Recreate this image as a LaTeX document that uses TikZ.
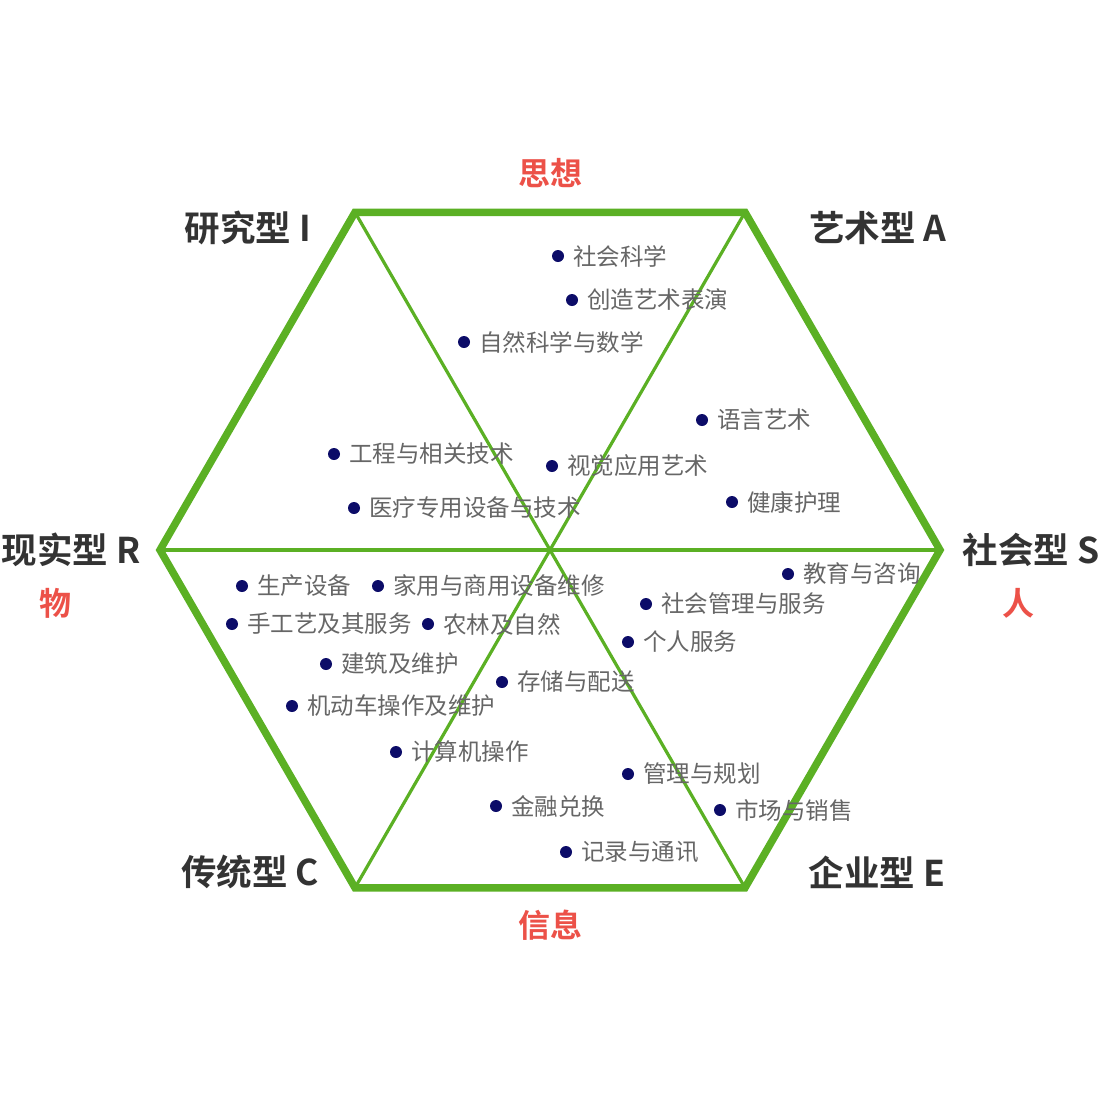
\documentclass[tikz,border=0pt]{standalone}
\usepackage{fontspec}
\usepackage{tikz}
\usepackage{xcolor}
\usetikzlibrary{positioning}
\setmainfont{Noto Sans CJK SC}[BoldFont={Noto Sans CJK SC Bold}]
\definecolor{hexgreen}{HTML}{5BB024}
\definecolor{themered}{HTML}{EC5148}
\definecolor{dotnavy}{HTML}{0C0C68}
\definecolor{itemgray}{HTML}{666666}
\definecolor{typedark}{HTML}{333333}

\begin{document}
\begin{tikzpicture}[x=1bp, y=-1bp]
\tikzstyle{dot}=[circle, fill=dotnavy, inner sep=0pt, minimum size=12bp]
\tikzstyle{item}=[inner sep=0pt, anchor=west, text=itemgray, font=\fontsize{23.5bp}{28bp}\selectfont]
\tikzstyle{type}=[inner sep=0pt, text=typedark, font=\fontsize{35.5bp}{40bp}\selectfont\bfseries]
\tikzstyle{theme}=[inner sep=0pt, text=themered, font=\fontsize{32bp}{36bp}\selectfont\bfseries]
\useasboundingbox (0,0) rectangle (1102,1100);
% hexagon corners
\coordinate (cI) at (355,212.25);
\coordinate (cA) at (745,212.25);
\coordinate (cS) at (940,550);
\coordinate (cE) at (745,887.75);
\coordinate (cC) at (355,887.75);
\coordinate (cR) at (160,550);
\draw[hexgreen, line width=3.2bp] (cI) -- (cE);
\draw[hexgreen, line width=3.2bp] (cA) -- (cC);
\draw[hexgreen, line width=3.2bp] (cR) -- (cS);
\draw[hexgreen, line width=7.5bp] (cI) -- (cA) -- (cS) -- (cE) -- (cC) -- (cR) -- cycle;
% type labels
\node[type] (tI) at (248,228) {研究型 I};
\node[type] (tA) at (878,228) {艺术型 A};
\node[type] (tS) at (1031,550) {社会型 S};
\node[type] (tR) at (71,550) {现实型 R};
\node[type] (tC) at (250,872) {传统型 C};
\node[type] (tE) at (877,872) {企业型 E};
\node[theme] (think) at (550,173) {思想};
\node[theme] (info) at (550,925) {信息};
\node[theme] (people) at (1018,603) {人};
\node[theme] (things) at (55,603) {物};
% items
\node[dot] (d1) at (558,256) {};
\node[item, right=9bp of d1] {社会科学};
\node[dot] (d2) at (572,300) {};
\node[item, right=9bp of d2] {创造艺术表演};
\node[dot] (d3) at (464,342) {};
\node[item, right=9bp of d3] {自然科学与数学};
\node[dot] (d4) at (702,420) {};
\node[item, right=9bp of d4] {语言艺术};
\node[dot] (d5) at (334,454) {};
\node[item, right=9bp of d5] {工程与相关技术};
\node[dot] (d6) at (552,466) {};
\node[item, right=9bp of d6] {视觉应用艺术};
\node[dot] (d7) at (732,502) {};
\node[item, right=9bp of d7] {健康护理};
\node[dot] (d8) at (354,508) {};
\node[item, right=9bp of d8] {医疗专用设备与技术};
\node[dot] (d9) at (788,574) {};
\node[item, right=9bp of d9] {教育与咨询};
\node[dot] (d10) at (242,586) {};
\node[item, right=9bp of d10] {生产设备};
\node[dot] (d11) at (378,586) {};
\node[item, right=9bp of d11] {家用与商用设备维修};
\node[dot] (d12) at (646,604) {};
\node[item, right=9bp of d12] {社会管理与服务};
\node[dot] (d13) at (232,624) {};
\node[item, right=9bp of d13] {手工艺及其服务};
\node[dot] (d14) at (428,624) {};
\node[item, right=9bp of d14] {农林及自然};
\node[dot] (d15) at (628,642) {};
\node[item, right=9bp of d15] {个人服务};
\node[dot] (d16) at (326,664) {};
\node[item, right=9bp of d16] {建筑及维护};
\node[dot] (d17) at (502,682) {};
\node[item, right=9bp of d17] {存储与配送};
\node[dot] (d18) at (292,706) {};
\node[item, right=9bp of d18] {机动车操作及维护};
\node[dot] (d19) at (396,752) {};
\node[item, right=9bp of d19] {计算机操作};
\node[dot] (d20) at (628,774) {};
\node[item, right=9bp of d20] {管理与规划};
\node[dot] (d21) at (496,806) {};
\node[item, right=9bp of d21] {金融兑换};
\node[dot] (d22) at (720,810) {};
\node[item, right=9bp of d22] {市场与销售};
\node[dot] (d23) at (566,852) {};
\node[item, right=9bp of d23] {记录与通讯};
\end{tikzpicture}
\end{document}
